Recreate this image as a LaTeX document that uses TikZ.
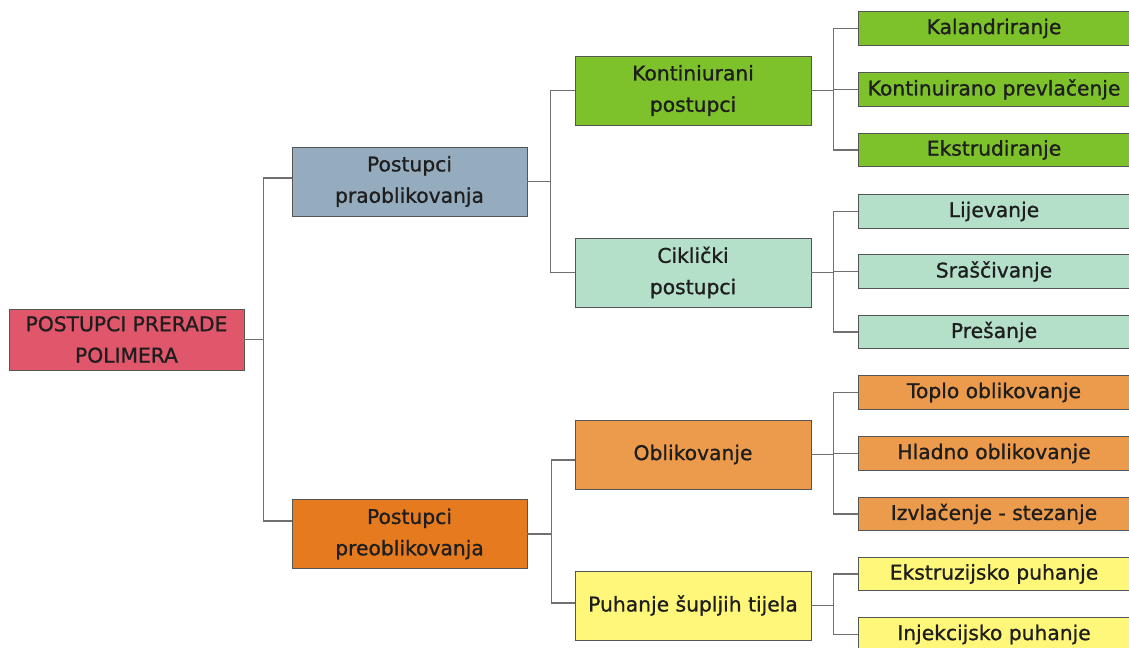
\documentclass[tikz,border=0pt]{standalone}
\usepackage{fontspec}
\setmainfont{DejaVu Sans}
\newfontfamily\boxfont[FakeBold=1.0]{DejaVu Sans}
\definecolor{rootc}{HTML}{E0566B}
\definecolor{prac}{HTML}{95ACBF}
\definecolor{prec}{HTML}{E57A1E}
\definecolor{konc}{HTML}{7DC22B}
\definecolor{cikc}{HTML}{B4DFC9}
\definecolor{oblc}{HTML}{EC9A4B}
\definecolor{puhc}{HTML}{FFF77A}
\definecolor{linec}{HTML}{707070}
\definecolor{borderc}{HTML}{555555}
\definecolor{textc}{HTML}{1E1E1E}
\begin{document}
\begin{tikzpicture}[x=0.75pt,y=-0.75pt,
  box/.style={draw=borderc,line width=0.7pt,align=center,inner sep=0pt,
    font=\boxfont\fontsize{15.2}{23.5}\selectfont,text=textc},
  rootbox/.style={box,fill=rootc,minimum width=176.25pt,minimum height=45.75pt},
  midbox/.style={box,minimum width=176.25pt,minimum height=51.75pt},
  subbox/.style={box,minimum width=177pt,minimum height=51.75pt},
  leaf/.style={box,minimum width=204pt,minimum height=25pt},
  conn/.style={draw=linec,line width=1.1pt}]
\useasboundingbox (0,0) rectangle (1129,648);
% nodes
\node[rootbox] (root) at (126.5,339.5) {POSTUPCI PRERADE\\POLIMERA};
\node[midbox,fill=prac] (pra) at (409.5,181.5) {Postupci\\praoblikovanja};
\node[midbox,fill=prec] (pre) at (409.5,534) {Postupci\\preoblikovanja};
\node[subbox,fill=konc] (kon) at (693,90.5) {Kontiniurani\\postupci};
\node[subbox,fill=cikc] (cik) at (693,272.5) {Ciklički\\postupci};
\node[subbox,fill=oblc] (obl) at (693,454.5) {Oblikovanje};
\node[subbox,fill=puhc] (puh) at (693,605.5) {Puhanje šupljih tijela};
\node[leaf,fill=konc] (l1) at (994,28.5) {Kalandriranje};
\node[leaf,fill=konc] (l2) at (994,89.5) {Kontinuirano prevlačenje};
\node[leaf,fill=konc] (l3) at (994,150) {Ekstrudiranje};
\node[leaf,fill=cikc] (l4) at (994,211.5) {Lijevanje};
\node[leaf,fill=cikc] (l5) at (994,271.5) {Sraščivanje};
\node[leaf,fill=cikc] (l6) at (994,332) {Prešanje};
\node[leaf,fill=oblc] (l7) at (994,392.5) {Toplo oblikovanje};
\node[leaf,fill=oblc] (l8) at (994,453.5) {Hladno oblikovanje};
\node[leaf,fill=oblc] (l9) at (994,514) {Izvlačenje - stezanje};
\node[leaf,fill=puhc] (l10) at (994,574) {Ekstruzijsko puhanje};
\node[leaf,fill=puhc] (l11) at (994,634.5) {Injekcijsko puhanje};
% junctions (horizontal from each parent's east side)
\coordinate (j1) at ([xshift=14.25pt]root.east);
\coordinate (j2) at ([xshift=17.25pt]pra.east);
\coordinate (j3) at ([xshift=18pt]pre.east);
\coordinate (j4) at ([xshift=16.5pt]kon.east);
\coordinate (j5) at ([xshift=16.5pt]cik.east);
\coordinate (j6) at ([xshift=16.5pt]obl.east);
\coordinate (j7) at ([xshift=16.5pt]puh.east);
% connectors
\draw[conn] (root.east) -- (j1);
\draw[conn] (j1) |- ([yshift=2.6pt]pra.west);
\draw[conn] (j1) |- ([yshift=9.75pt]pre.west);
\draw[conn] (pra.east) -- (j2);
\draw[conn] (j2) |- (kon.west);
\draw[conn] (j2) |- (cik.west);
\draw[conn] (pre.east) -- (j3);
\draw[conn] (j3) |- ([yshift=-4.1pt]obl.west);
\draw[conn] (j3) |- ([yshift=1.9pt]puh.west);
\draw[conn] (kon.east) -- (j4);
\draw[conn] (j4) |- (l1.west);
\draw[conn] (j4) |- (l2.west);
\draw[conn] (j4) |- (l3.west);
\draw[conn] (cik.east) -- (j5);
\draw[conn] (j5) |- (l4.west);
\draw[conn] (j5) |- (l5.west);
\draw[conn] (j5) |- (l6.west);
\draw[conn] (obl.east) -- (j6);
\draw[conn] (j6) |- (l7.west);
\draw[conn] (j6) |- (l8.west);
\draw[conn] (j6) |- (l9.west);
\draw[conn] (puh.east) -- (j7);
\draw[conn] (j7) |- (l10.west);
\draw[conn] (j7) |- (l11.west);
\end{tikzpicture}
\end{document}
